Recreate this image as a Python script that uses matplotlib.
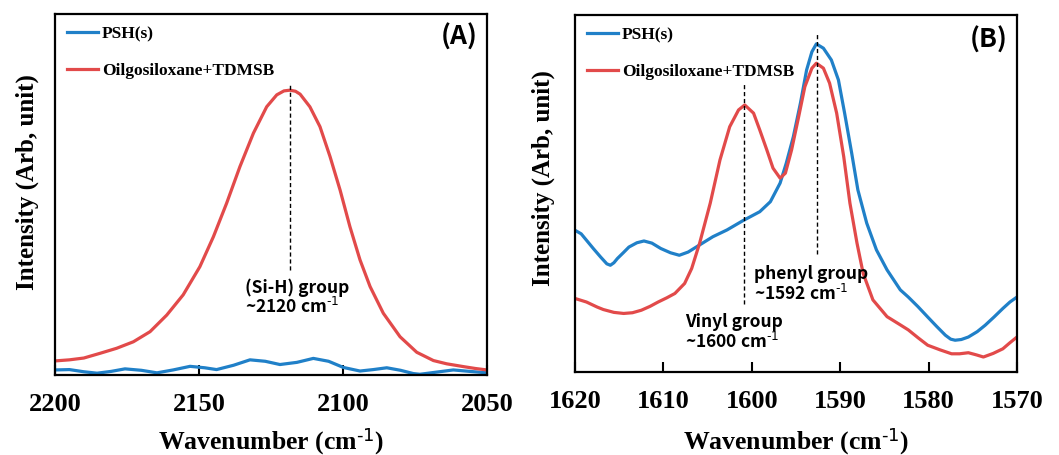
import matplotlib
matplotlib.use('Agg')
import matplotlib.pyplot as plt

# (A) Si-H region
wn_a_red = [2200, 2195, 2190, 2184.4, 2178.6, 2172.8, 2167.0, 2161.2, 2155.5, 2149.7,
            2145.0, 2140.4, 2135.8, 2131.1, 2126.5, 2123.0, 2120.5, 2118.4, 2116.5, 2114.9,
            2111.5, 2108.0, 2104.5, 2101.0, 2097.6, 2094.1, 2090.6, 2086.0, 2080.2, 2074.4,
            2068.6, 2064.0, 2058.0, 2054.0, 2050]
int_a_red = [3.9, 4.2, 4.7, 6.0, 7.4, 9.2, 12.0, 16.6, 22.2, 30.0,
             38.3, 47.6, 57.7, 67.0, 74.3, 77.6, 78.7, 78.9, 78.6, 77.8,
             74.3, 68.8, 60.5, 51.2, 41.1, 31.9, 24.5, 17.1, 10.6, 6.3,
             4.0, 3.1, 2.3, 1.8, 1.4]
wn_a_blue = [2200, 2195, 2190, 2185.4, 2180.5, 2175.7, 2170, 2164.6, 2159, 2153.1,
             2148, 2143.9, 2138, 2132.3, 2127, 2121.9, 2116, 2110.3, 2105, 2099.9,
             2094.1, 2089.5, 2084.8, 2080, 2075.6, 2073.3, 2067.5, 2061.7, 2056, 2050]
int_a_blue = [1.4, 1.5, 0.9, 0.5, 1.0, 1.7, 1.3, 0.6, 1.4, 2.4,
              2.0, 1.5, 2.7, 4.2, 3.8, 2.9, 3.5, 4.6, 3.8, 2.1,
              1.1, 1.5, 2.0, 1.3, 0.4, 0.2, 0.8, 1.4, 1.0, 0.6]

# (B) aromatic / vinyl region
wn_b_blue = [1620, 1619.3, 1618.7, 1617.9, 1617.1, 1616.4, 1616.0, 1615.6, 1615.2, 1614.5,
             1613.9, 1613.0, 1612.2, 1611.3, 1610.3, 1609.2, 1608.2, 1607.2, 1605.9, 1604.4,
             1602.8, 1601.0, 1599.1, 1597.9, 1596.8, 1596.1, 1595.3, 1594.5, 1593.8, 1593.2,
             1592.7, 1591.9, 1591.0, 1590.2, 1589.5, 1588.7, 1588.0, 1587.0, 1585.9, 1584.7,
             1583.2, 1582.3, 1581.2, 1580.1, 1579.1, 1578.1, 1577.5, 1577.0, 1576.3, 1575.5,
             1574.5, 1573.6, 1572.6, 1571.6, 1570.8, 1570]
int_b_blue = [39.7, 38.7, 36.9, 34.5, 32.2, 30.3, 29.9, 30.6, 31.8, 33.5,
              35.0, 36.2, 36.7, 36.1, 34.6, 33.4, 32.7, 33.6, 35.6, 37.9,
              39.8, 42.4, 44.9, 47.7, 52.9, 58.5, 65.9, 75.3, 84.6, 89.7,
              91.9, 90.7, 87.4, 81.8, 72.5, 61.3, 51.0, 41.7, 34.2, 28.6,
              23.0, 21.0, 18.3, 15.4, 12.8, 10.3, 9.2, 8.9, 9.1, 9.8,
              11.3, 13.1, 15.4, 17.8, 19.6, 21.0]
wn_b_red = [1620, 1618.7, 1617.5, 1616.8, 1615.6, 1614.5, 1613.5, 1612.5, 1611.5, 1610.6,
            1609.6, 1608.7, 1607.6, 1606.8, 1605.9, 1604.7, 1603.6, 1602.5, 1601.5, 1600.8,
            1599.8, 1599.1, 1598.3, 1597.6, 1596.8, 1596.2, 1595.5, 1594.7, 1594.0, 1593.2,
            1592.7, 1591.9, 1591.2, 1590.4, 1589.6, 1588.9, 1588.1, 1587.4, 1586.3, 1584.7,
            1583.2, 1582.3, 1581.2, 1580.1, 1578.7, 1577.4, 1576.5, 1575.5, 1574.6, 1573.8,
            1572.7, 1571.6, 1570.8, 1570]
int_b_red = [20.6, 19.6, 18.2, 17.5, 16.7, 16.4, 16.6, 17.3, 18.4, 19.6,
             20.8, 22.0, 24.8, 29.0, 36.1, 47.3, 59.4, 68.7, 73.4, 74.8,
             72.5, 67.8, 62.2, 57.1, 54.3, 55.7, 62.2, 71.5, 79.9, 85.1,
             86.5, 85.1, 80.9, 72.5, 60.3, 47.3, 36.1, 27.6, 20.2, 15.5,
             13.2, 11.8, 9.6, 7.5, 6.2, 5.1, 5.1, 5.4, 4.8, 4.2,
             5.2, 6.5, 8.2, 9.8]

labels = ['PSH(s)', 'Oilgosiloxane+TDMSB']
BLUE = '#2080C8'
RED = '#E24A4A'

serif = 'Liberation Serif'
sans = 'Noto Sans CJK KR'
plt.rcParams['mathtext.default'] = 'regular'
SUP = r'$^{\text{-1}}$'

fig = plt.figure(figsize=(10.59, 4.55), dpi=100)
ax1 = fig.add_axes([55 / 1059, 80 / 455, 432 / 1059, 361 / 455])
ax2 = fig.add_axes([575 / 1059, 83 / 455, 442 / 1059, 357 / 455])


def style_axes(ax, xlim, xticks, label_x, label_y, xlab_y):
    ax.set_xlim(*xlim)
    ax.set_ylim(0, 100)
    ax.set_xticks(xticks)
    ax.set_yticks([])
    ax.tick_params(axis='x', direction='in', length=7, width=1.5, pad=13)
    for t in ax.get_xticklabels():
        t.set_fontfamily(serif)
        t.set_fontweight('bold')
        t.set_fontsize(19)
    for s in ax.spines.values():
        s.set_linewidth(1.6)
    ax.set_xlabel('Wavenumber (cm' + SUP + ')', family=serif, weight='bold', fontsize=18.5)
    ax.xaxis.set_label_coords(0.5, xlab_y)
    ax.set_ylabel('Intensity (Arb, unit)', family=serif, weight='bold', fontsize=18)
    ax.yaxis.set_label_coords(label_x, label_y)


def note(ax, x, y, text):
    ax.text(x, y, text, family=sans, weight='bold', fontsize=12.5, ha='left', va='center')


def add_legend(ax):
    ax.legend(loc='upper left', frameon=False,
              prop={'family': serif, 'weight': 'bold', 'size': 12.5},
              handlelength=1.75, labelspacing=1.2, borderaxespad=0.3, handletextpad=0.25)


# panel A
ax1.plot(wn_a_blue, int_a_blue, color=BLUE, lw=2.3, label=labels[0])
ax1.plot(wn_a_red, int_a_red, color=RED, lw=2.3, label=labels[1])
style_axes(ax1, (2200, 2050), [2200, 2150, 2100, 2050], -0.037, 0.535, -0.14)
ax1.vlines(2118.4, 29, 81, colors='black', linestyles=(0, (3, 2)), lw=1)
note(ax1, 2134, 24.2, '(Si-H) group')
note(ax1, 2134, 18.8, '~2120 cm' + SUP)
ax1.text(0.935, 0.935, '(A)', transform=ax1.transAxes, family=sans, weight='bold',
         fontsize=19, ha='center', va='center')
add_legend(ax1)

# panel B
ax2.plot(wn_b_blue, int_b_blue, color=BLUE, lw=2.3, label=labels[0])
ax2.plot(wn_b_red, int_b_red, color=RED, lw=2.3, label=labels[1])
style_axes(ax2, (1620, 1570), [1620, 1610, 1600, 1590, 1580, 1570], -0.045, 0.543, -0.15)
ax2.vlines(1600.9, 19, 81, colors='black', linestyles=(0, (3, 2)), lw=1)
ax2.vlines(1592.6, 33, 95, colors='black', linestyles=(0, (3, 2)), lw=1)
note(ax2, 1599.75, 27.5, 'phenyl group')
note(ax2, 1599.75, 22.0, '~1592 cm' + SUP)
note(ax2, 1607.6, 14.0, 'Vinyl group')
note(ax2, 1607.6, 8.4, '~1600 cm' + SUP)
ax2.text(0.935, 0.93, '(B)', transform=ax2.transAxes, family=sans, weight='bold',
         fontsize=19, ha='center', va='center')
add_legend(ax2)

fig.savefig('out.png', dpi=100)
